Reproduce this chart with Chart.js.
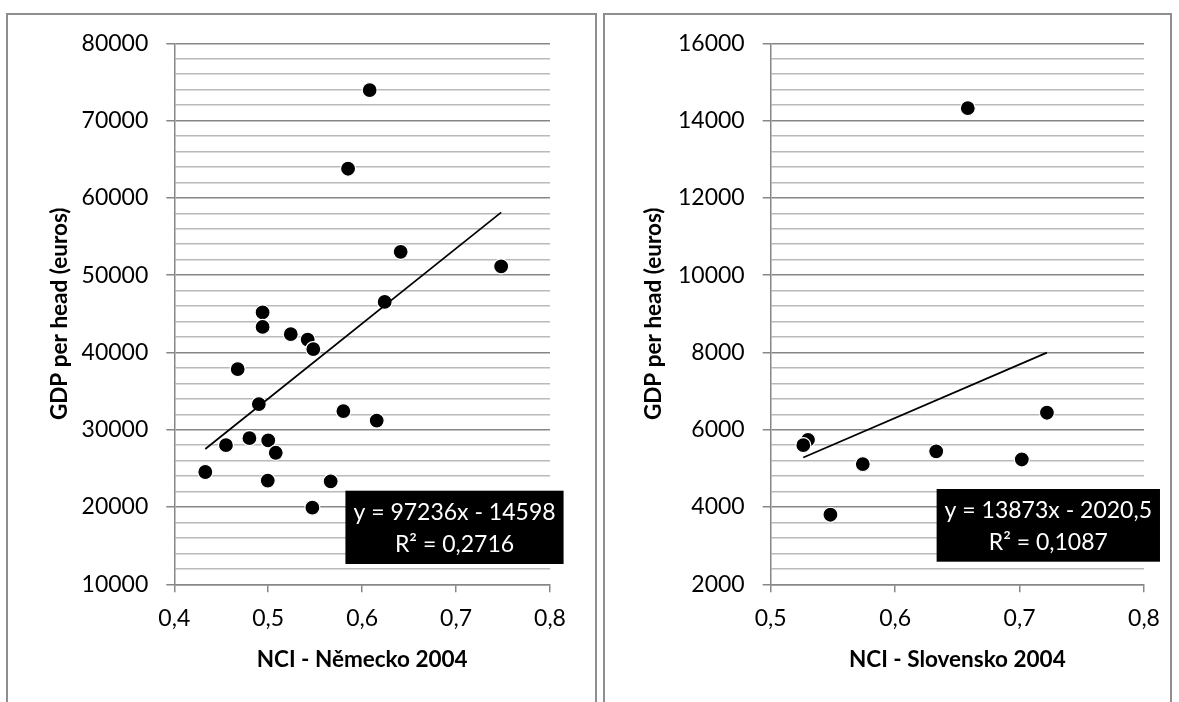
<!DOCTYPE html>
<html>
<head>
<meta charset="utf-8">
<script src="https://cdn.jsdelivr.net/npm/chart.js@4/dist/chart.umd.min.js"></script>
<style>
  body { margin: 0; background: #fff; width: 1179px; height: 702px; overflow: hidden; position: relative; }
  .panel { position: absolute; top: 13px; height: 720px; box-sizing: border-box;
           border: 2px solid #8e8e8e; border-bottom: none; }
  canvas { position: absolute; top: 0; }
</style>
</head>
<body>
<div class="panel" style="left:6px; width:591px;"></div>
<div class="panel" style="left:603px; width:569px;"></div>
<canvas id="chartDe" width="600" height="702" style="left:0"></canvas>
<canvas id="chartSk" width="579" height="702" style="left:600px"></canvas>
<script>
// Německo 2004
const deNci = [0.608, 0.585, 0.641, 0.748, 0.624, 0.494, 0.494, 0.524, 0.542, 0.548, 0.4675,
               0.490, 0.580, 0.6155, 0.455, 0.480, 0.500, 0.508, 0.433, 0.4995, 0.5665, 0.547];
const deGdp = [73950, 63770, 53020, 51130, 46540, 45170, 43300, 42360, 41670, 40440, 37850,
               33320, 32410, 31190, 28000, 28910, 28610, 27020, 24530, 23420, 23330, 19920];
const deXTicks = [0.4, 0.5, 0.6, 0.7, 0.8];
const deYTicks = [10000, 20000, 30000, 40000, 50000, 60000, 70000, 80000];
const deYMinor = 2000;
const deSlope = 97236, deIntercept = -14598;
const deEq = ['y = 97236x - 14598', 'R\u00b2 = 0,2716'];

// Slovensko 2004
const skNci = [0.6584, 0.7220, 0.5300, 0.5262, 0.6330, 0.7018, 0.5740, 0.5480];
const skGdp = [14320, 6440, 5740, 5600, 5440, 5230, 5110, 3800];
const skXTicks = [0.5, 0.6, 0.7, 0.8];
const skYTicks = [2000, 4000, 6000, 8000, 10000, 12000, 14000, 16000];
const skYMinor = 400;
const skSlope = 13873, skIntercept = -2020.5;
const skEq = ['y = 13873x - 2020,5', 'R\u00b2 = 0,1087'];

const FONT = 'Lato';
const MAJOR = '#878787', MINOR = '#b9b9b9';

// black label box with the trendline equation
const eqBox = {
  id: 'eqBox',
  afterDatasetsDraw(chart, args, opts) {
    const {ctx, chartArea} = chart;
    ctx.save();
    ctx.font = '23px ' + FONT;
    const w = Math.max(...opts.lines.map(t => ctx.measureText(t).width)) + 2 * opts.padX;
    const cx = chartArea.left + opts.dx;
    const top = chartArea.top + opts.dy;
    ctx.fillStyle = '#000';
    ctx.fillRect(cx - w / 2, top, w, opts.h);
    ctx.fillStyle = '#fff';
    ctx.textAlign = 'center';
    ctx.textBaseline = 'middle';
    opts.lines.forEach((t, i) => ctx.fillText(t, cx, top + opts.first + i * opts.gap));
    ctx.restore();
  }
};

function makeChart(id, nci, gdp, slope, intercept, xTicks, yTicks, yMinor, xTitle, eq, lay) {
  const points = nci.map((x, i) => ({x: x, y: gdp[i]}));
  const x0 = Math.min(...nci), x1 = Math.max(...nci);
  const trend = [{x: x0, y: slope * x0 + intercept}, {x: x1, y: slope * x1 + intercept}];
  const yMin = yTicks[0], yMax = yTicks[yTicks.length - 1];

  return new Chart(document.getElementById(id), {
    type: 'scatter',
    data: {
      datasets: [
        {type: 'line', data: trend, borderColor: '#000', borderWidth: 1.7, pointRadius: 0, fill: false},
        {data: points, backgroundColor: '#000', borderColor: '#fff', borderWidth: 1.2, pointRadius: 7.5, pointHoverRadius: 7.5}
      ]
    },
    options: {
      responsive: false,
      animation: false,
      events: [],
      layout: {padding: lay.padding},
      plugins: {
        legend: {display: false},
        tooltip: {enabled: false},
        eqBox: eq
      },
      scales: {
        x: {
          type: 'linear',
          min: xTicks[0],
          max: xTicks[xTicks.length - 1],
          afterBuildTicks: s => { s.ticks = xTicks.map(v => ({value: v})); },
          afterFit: s => { s.height = lay.xHeight; },
          grid: {drawOnChartArea: false, drawTicks: true, tickLength: 8, color: MAJOR, lineWidth: 1.5},
          border: {color: MAJOR, width: 1.5},
          ticks: {
            padding: 12,
            color: '#000',
            font: {family: FONT, size: 23},
            maxRotation: 0,
            callback: v => v.toFixed(1).replace('.', ',')
          },
          title: {display: true, text: xTitle, color: '#000', padding: 0,
                  font: {family: FONT, size: 22.5, weight: 'bold'}}
        },
        y: {
          type: 'linear',
          min: yMin,
          max: yMax,
          afterBuildTicks: s => {
            const t = [];
            for (let v = yMin; v <= yMax; v += yMinor) t.push({value: v});
            s.ticks = t;
          },
          afterFit: s => { s.width = lay.yWidth; },
          grid: {
            tickLength: 8,
            lineWidth: 1.5,
            color: c => yTicks.includes(c.tick.value) ? MAJOR : MINOR,
            tickColor: c => yTicks.includes(c.tick.value) ? MAJOR : 'rgba(0,0,0,0)'
          },
          border: {color: MAJOR, width: 1.5},
          ticks: {
            padding: 18,
            color: '#000',
            font: {family: FONT, size: 23},
            autoSkip: false,
            callback: v => yTicks.includes(v) ? String(v) : ''
          },
          title: {display: true, text: 'GDP per head (euros)', color: '#000', padding: 0,
                  font: {family: FONT, size: 22.5, weight: 'bold'}}
        }
      }
    },
    plugins: [eqBox]
  });
}

makeChart('chartDe', deNci, deGdp, deSlope, deIntercept, deXTicks, deYTicks, deYMinor,
  'NCI - N\u011bmecko 2004',
  {lines: deEq, dx: 280.2, dy: 447.4, h: 73.3, first: 22.3, gap: 32, padX: 8},
  {padding: {left: 46.5, right: 50, top: 43.3, bottom: 28.5}, yWidth: 127.8, xHeight: 89.2});

makeChart('chartSk', skNci, skGdp, skSlope, skIntercept, skXTicks, skYTicks, skYMinor,
  'NCI - Slovensko 2004',
  {lines: skEq, dx: 277.6, dy: 445.7, h: 72.7, first: 21.7, gap: 31.6, padX: 8},
  {padding: {left: 40.5, right: 35, top: 43.3, bottom: 28.5}, yWidth: 130.2, xHeight: 89.2});
</script>
</body>
</html>
